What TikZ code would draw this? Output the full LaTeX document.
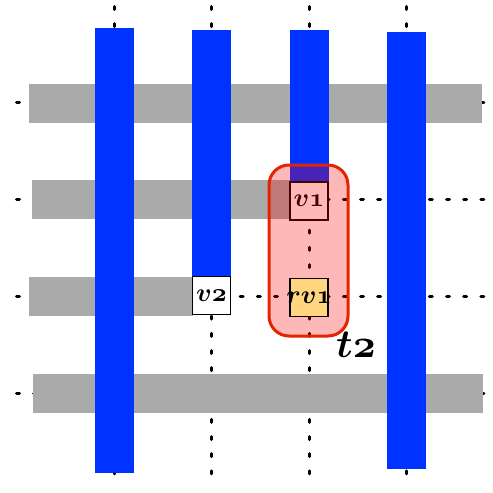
\documentclass[tikz,border=0pt]{standalone}
\usepackage{graphicx}
\definecolor{barGray}{HTML}{AAAAAA}
\definecolor{barBlue}{HTML}{0033FF}
\definecolor{rvYellow}{HTML}{FFD580}
\definecolor{tRed}{HTML}{E32400}
\newcommand{\boxlbl}[1]{\makebox[0pt]{\scalebox{2.6}{\boldmath$\mathnormal{#1}$}}}
\newcommand{\biglbl}[1]{\scalebox{4.0}{\boldmath$\mathnormal{#1}$}}
\begin{document}
\begin{tikzpicture}[x=1pt,y=-1pt,
  gridline/.style={line width=3pt, line cap=round, dash pattern=on 3pt off 14.2pt},
  graybar/.style={fill=barGray},
  bluebar/.style={fill=barBlue},
  vbox/.style={draw=black, line width=1.3pt, minimum size=38pt, inner sep=0pt},
  groupbox/.style={draw=tRed, line width=3pt, fill=red, fill opacity=0.28,
    rounded corners=20pt, minimum width=79pt, minimum height=171pt, inner sep=0pt}
]
\useasboundingbox (0,0) rectangle (493,493);
% dotted grid
\foreach \x [count=\i] in {114,211,309,406} {
  \coordinate (vt\i) at (\x,6.5);
  \coordinate (vb\i) at (\x,488);
  \draw[gridline] (vt\i) -- (vb\i);
}
\foreach \y [count=\i] in {102,199,296,393} {
  \coordinate (hl\i) at (16.5,\y);
  \coordinate (hr\i) at (485,\y);
  \draw[gridline] (hl\i) -- (hr\i);
}
% gray rows
\fill[graybar] (29,84) rectangle (482,123);
\fill[graybar] (32,180) rectangle (290,219);
\fill[graybar] (29,277) rectangle (193,316);
\fill[graybar] (33,374) rectangle (483,413);
% blue columns
\fill[bluebar] (95,28) rectangle (134,473);
\fill[bluebar] (192,30) rectangle (231,278);
\fill[bluebar] (290,30) rectangle (329,183);
\fill[bluebar] (387,32) rectangle (426,469);
% boxes
\node[vbox, fill=white] (v1) at (309,201) {\boxlbl{v1}};
\node[vbox, fill=white] (v2) at (211.5,295.5) {\boxlbl{v2}};
\node[groupbox] (t2box) at (308.5,250.5) {};
\node[vbox, fill=rvYellow] (rv1) at (309,297.5) {\boxlbl{rv1}};
\node (t2) at (356,345) {\biglbl{t2}};
\end{tikzpicture}
\end{document}
